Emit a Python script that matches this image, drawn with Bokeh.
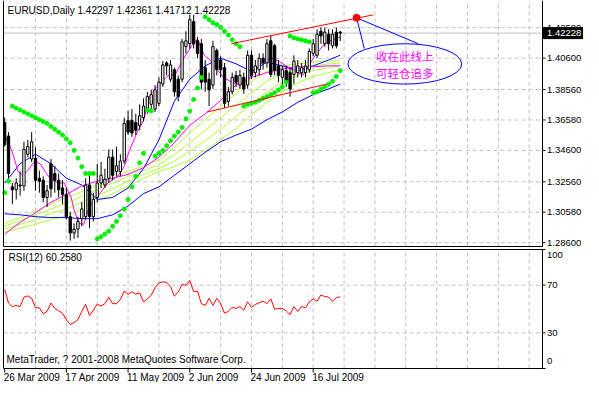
from bokeh.plotting import figure
from bokeh.models import Range1d, ColumnDataSource
from bokeh.layouts import column
from bokeh.embed import file_html
from bokeh.resources import INLINE
from bokeh.core.properties import value

# ---------------- data ----------------
symbol_title = "EURUSD,Daily  1.42297 1.42361 1.41712 1.42228"
rsi_title = "RSI(12) 60.2580"
copyright_text = "MetaTrader, ? 2001-2008 MetaQuotes Software Corp."
date_labels = ["26 Mar 2009", "17 Apr 2009", "11 May 2009", "2 Jun 2009", "24 Jun 2009", "16 Jul 2009"]
date_bars = [0, 16, 32, 48, 64, 80]
grid_bars = [8, 16, 24, 32, 40, 48, 56, 64, 72, 80, 88, 96, 104, 112, 120, 128, 136]
price_ticks = [1.42580, 1.40600, 1.38560, 1.36580, 1.34600, 1.32560, 1.30580, 1.28600]
last_close = 1.42228

opens = [1.3641, 1.3554, 1.3223, 1.3204, 1.3235, 1.3229, 1.3435, 1.3404, 1.3410, 1.3279,
         1.3266, 1.3154, 1.3373, 1.3310, 1.3266, 1.3216, 1.3173, 1.3029, 1.2923, 1.2948,
         1.3016, 1.3029, 1.3235, 1.3029, 1.3154, 1.3248, 1.3235, 1.3279, 1.3416, 1.3323,
         1.3323, 1.3391, 1.3654, 1.3654, 1.3641, 1.3623, 1.3673, 1.3735, 1.3760, 1.3729,
         1.3766, 1.3891, 1.4029, 1.3923, 1.3985, 1.3923, 1.3923, 1.4135, 1.4154, 1.4298,
         1.4173, 1.4154, 1.3998, 1.3923, 1.3885, 1.4110, 1.4048, 1.3998, 1.3779, 1.3841,
         1.3948, 1.3885, 1.3935, 1.3885, 1.4079, 1.3966, 1.3985, 1.4060, 1.4029, 1.4173,
         1.4141, 1.4010, 1.3935, 1.3979, 1.3966, 1.3954, 1.3966, 1.3966, 1.3966, 1.3985,
         1.4091, 1.4079, 1.4235, 1.4154, 1.4216, 1.4141, 1.4229, 1.42297]
closes = [1.3498, 1.3310, 1.3204, 1.3248, 1.3229, 1.3466, 1.3485, 1.3516, 1.3266, 1.3260,
          1.3154, 1.3198, 1.3210, 1.3266, 1.3204, 1.3173, 1.3029, 1.2923, 1.2948, 1.2998,
          1.3079, 1.3235, 1.3029, 1.3141, 1.3248, 1.3298, 1.3273, 1.3416, 1.3298, 1.3360,
          1.3391, 1.3635, 1.3579, 1.3573, 1.3591, 1.3685, 1.3748, 1.3810, 1.3823, 1.3854,
          1.3904, 1.4016, 1.4010, 1.4016, 1.3841, 1.3810, 1.4166, 1.4173, 1.4310, 1.4154,
          1.4091, 1.3904, 1.3904, 1.3854, 1.4135, 1.3985, 1.3985, 1.3766, 1.3841, 1.3935,
          1.3904, 1.3948, 1.3860, 1.4079, 1.3948, 1.4010, 1.4060, 1.4029, 1.4154, 1.3954,
          1.3979, 1.3948, 1.3985, 1.3904, 1.3860, 1.4041, 1.4010, 1.3998, 1.4010, 1.4104,
          1.4154, 1.4216, 1.4204, 1.4229, 1.4154, 1.4216, 1.4141, 1.42228]
highs = [1.3673, 1.3579, 1.3248, 1.3279, 1.3323, 1.3516, 1.3529, 1.3579, 1.3479, 1.3329,
         1.3291, 1.3235, 1.3404, 1.3360, 1.3310, 1.3266, 1.3216, 1.3060, 1.2985, 1.3029,
         1.3123, 1.3279, 1.3310, 1.3185, 1.3373, 1.3385, 1.3341, 1.3466, 1.3466, 1.3485,
         1.3435, 1.3673, 1.3716, 1.3729, 1.3698, 1.3760, 1.3798, 1.3841, 1.3854, 1.3885,
         1.3935, 1.4041, 1.4041, 1.4048, 1.3998, 1.3948, 1.4185, 1.4235, 1.4341, 1.4341,
         1.4198, 1.4185, 1.4048, 1.3966, 1.4173, 1.4123, 1.4073, 1.4029, 1.3873, 1.3966,
         1.3979, 1.3985, 1.3966, 1.4110, 1.4110, 1.4048, 1.4091, 1.4091, 1.4185, 1.4204,
         1.4154, 1.4048, 1.4010, 1.4010, 1.3998, 1.4079, 1.4048, 1.4029, 1.4048, 1.4123,
         1.4185, 1.4248, 1.4260, 1.4260, 1.4248, 1.4248, 1.4260, 1.42361]
lows = [1.3485, 1.3279, 1.3110, 1.3141, 1.3166, 1.3198, 1.3416, 1.3385, 1.3198, 1.3185,
        1.3123, 1.3091, 1.3154, 1.3185, 1.3154, 1.3110, 1.3010, 1.2873, 1.2885, 1.2891,
        1.2966, 1.3010, 1.2954, 1.2998, 1.3123, 1.3216, 1.3216, 1.3248, 1.3266, 1.3291,
        1.3291, 1.3373, 1.3560, 1.3548, 1.3560, 1.3591, 1.3648, 1.3698, 1.3729, 1.3710,
        1.3748, 1.3873, 1.3948, 1.3904, 1.3810, 1.3779, 1.3904, 1.4091, 1.4123, 1.4123,
        1.4060, 1.3860, 1.3841, 1.3748, 1.3860, 1.3948, 1.3935, 1.3735, 1.3748, 1.3823,
        1.3873, 1.3860, 1.3829, 1.3860, 1.3923, 1.3935, 1.3948, 1.3985, 1.3998, 1.3935,
        1.3948, 1.3904, 1.3885, 1.3873, 1.3810, 1.3891, 1.3935, 1.3935, 1.3935, 1.3966,
        1.4073, 1.4060, 1.4154, 1.4135, 1.4110, 1.4123, 1.4123, 1.41712]

# fast magenta average, read at the points where it turns
fast_bars = [0, 1.75, 3.5, 4.75, 6, 7.25, 8, 9.25, 10.5, 11.75, 13, 14.25, 15.5, 16.25, 17.25, 18,
             19.25, 20.5, 21.75, 23, 24.25, 26.75, 29.25, 31, 32.25, 34.25, 36, 37.5, 40, 42.5,
             44.25, 46, 48.5, 50, 51.75, 53.5, 54.75, 56.75, 59.25, 61.25, 63.5, 65, 67.5, 69.75,
             71.75, 73.75, 75.75, 77.5, 80, 82.5, 84.25, 87]
ma_fast = [1.3560, 1.3466, 1.3323, 1.3298, 1.3329, 1.3373, 1.3385, 1.3373, 1.3323, 1.3279, 1.3260,
           1.3248, 1.3248, 1.3204, 1.3154, 1.3073, 1.2985, 1.2979, 1.3079, 1.3135, 1.3166, 1.3248,
           1.3291, 1.3354, 1.3454, 1.3573, 1.3654, 1.3810, 1.3891, 1.3948, 1.3954, 1.4041, 1.4141,
           1.4185, 1.4079, 1.4041, 1.3998, 1.3935, 1.3898, 1.3891, 1.3935, 1.3985, 1.4048, 1.4060,
           1.4029, 1.3998, 1.3966, 1.3954, 1.4060, 1.4141, 1.4173, 1.4198]

# slower lines, read at every 4th bar
line_bars = [0, 4, 8, 12, 16, 20, 24, 28, 32, 36, 40, 44, 48, 52, 56, 60, 64, 68, 72, 76, 80, 84, 87]
ma_slow = [1.2916, 1.2991, 1.3054, 1.3123, 1.3173, 1.3229, 1.3260, 1.3279, 1.3304, 1.3348, 1.3416, 1.3510,
           1.3623, 1.3698, 1.3785, 1.3885, 1.3935, 1.3966, 1.3991, 1.4004, 1.4004, 1.4010, 1.4010]
ma_blue = [1.3248, 1.3373, 1.3435, 1.3373, 1.3279, 1.3235, 1.3141, 1.3154, 1.3216, 1.3341, 1.3529, 1.3779,
           1.3923, 1.4010, 1.4060, 1.4023, 1.3973, 1.4035, 1.4010, 1.3979, 1.4010, 1.4048, 1.4079]
ma_blue_slow = [1.3048, 1.3041, 1.3029, 1.3023, 1.3023, 1.3016, 1.3016, 1.3041, 1.3098, 1.3179, 1.3223, 1.3298,
                1.3373, 1.3448, 1.3516, 1.3560, 1.3598, 1.3660, 1.3710, 1.3773, 1.3823, 1.3860, 1.3891]
yg1 = [1.2985, 1.3023, 1.3066, 1.3110, 1.3154, 1.3191, 1.3235, 1.3279, 1.3323, 1.3360, 1.3398, 1.3479,
       1.3573, 1.3660, 1.3748, 1.3829, 1.3910, 1.3973, 1.4010, 1.4023, 1.4035, 1.4041, 1.4048]
yg2 = [1.2966, 1.3004, 1.3041, 1.3079, 1.3116, 1.3160, 1.3204, 1.3248, 1.3291, 1.3329, 1.3366, 1.3435,
       1.3510, 1.3591, 1.3673, 1.3754, 1.3835, 1.3910, 1.3960, 1.3991, 1.4010, 1.4023, 1.4029]
yg3 = [1.2948, 1.2979, 1.3010, 1.3048, 1.3079, 1.3123, 1.3166, 1.3210, 1.3260, 1.3304, 1.3341, 1.3391,
       1.3454, 1.3523, 1.3598, 1.3679, 1.3760, 1.3841, 1.3904, 1.3948, 1.3979, 1.3998, 1.4010]
yg4 = [1.2929, 1.2954, 1.2979, 1.3010, 1.3035, 1.3079, 1.3129, 1.3179, 1.3229, 1.3279, 1.3323, 1.3354,
       1.3398, 1.3460, 1.3529, 1.3604, 1.3691, 1.3773, 1.3841, 1.3898, 1.3941, 1.3966, 1.3985]

sar = [1.3185, 1.3260, 1.3748, 1.3735, 1.3723, 1.3710, 1.3698, 1.3685, 1.3673, 1.3660,
       1.3648, 1.3635, 1.3616, 1.3598, 1.3579, 1.3560, 1.3535, 1.3510, 1.3460, 1.3410,
       1.3354, 1.3310, 1.3310, 1.3310, 1.2885, 1.2898, 1.2916, 1.2935, 1.2966, 1.2998,
       1.3035, 1.3079, 1.3141, 1.3223, 1.3291, 1.3379, 1.3441, 1.3723, 1.3716, 1.3423,
       1.3441, 1.3460, 1.3491, 1.3523, 1.3554, 1.3579, 1.3610, 1.3666, 1.3716, 1.3791,
       1.3866, 1.3935, 1.4329, 1.4310, 1.4291, 1.4279, 1.4260, 1.4235, 1.4210, 1.4179,
       1.4154, 1.4135, 1.3748, 1.3760, 1.3766, 1.3773, 1.3785, 1.3798, 1.3810, 1.3823,
       1.3835, 1.3854, 1.3873, 1.3904, 1.4204, 1.4191, 1.4185, 1.4179, 1.4173, 1.4166,
       1.3835, 1.3841, 1.3860, 1.3873, 1.3891, 1.3910, 1.3941, 1.3979]

rsi = [66.5, 55, 52, 53, 52, 60, 61, 59, 51, 51, 46, 48, 55, 50.5, 48.5, 46.5, 41, 37, 38.5, 41,
       48, 54, 44.5, 49, 54, 52.5, 54.5, 60, 54.5, 54.5, 58, 65, 62.5, 64.5, 62.5, 63.5, 56, 58.5,
       61.5, 68, 72, 72.7, 72.5, 69, 60.7, 64.4, 70.5, 70, 74, 64.7, 65, 54.5, 53, 59, 53, 59, 54.5,
       46.5, 48, 51.4, 50.5, 52, 49, 56, 51.4, 53.8, 55.3, 56.6, 54.5, 58.5, 49.8, 50.5, 50.5, 48.4,
       45.2, 52, 48, 52, 51, 56, 58.5, 56.5, 61.7, 60.5, 60, 56.5, 59.5, 60.26]
rsi_ticks = [0, 30, 70, 100]
rsi_grid = [30, 70]

# hand-drawn objects (bar index, price)
channel_upper = ([58.75, 95.5], [1.41538, 1.43413])
channel_lower = ([52.5, 83.5], [1.37100, 1.38913])
marker_point = (91.25, 1.43225)
callout_a = ([91.25, 93.25], [1.43225, 1.41225])
callout_b = ([91.25, 107.25], [1.43225, 1.41538])
note_ellipse = (103.75, 1.40225, 29.5, 0.02625)
note_lines = ["收在此线上", "可轻仓追多"]

# ---------------- layout (screen geometry) ----------------
W = 583
H1, H2 = 247, 135
CL, CR = 3, 542            # chart box left/right in px
CT, CB = 0, 246            # main chart box top/bottom in px
RT, RB = 2, 121            # rsi chart box top/bottom in px
X0, X1 = -0.3, 139.45      # bars visible in chart box
Y0, Y1 = 1.2835, 1.4435    # prices visible in chart box
FONT = "Liberation Sans"
FS = "10px"
FS_AX = "9.5px"
GRID = "#c0c0c0"
DASH = "4 3"
SAR_C = "#00f000"
YG_C = "#adff2f"

sx = (CR - CL) / (X1 - X0)           # px per bar
sy = (CB - CT) / (Y1 - Y0)           # px per price unit
sr = (RB - RT) / 100.0               # px per rsi unit
def dx(px): return px / sx
def dy(px): return px / sy
def dr(px): return px / sr

xr1 = Range1d(X0 - dx(CL), X1 + dx(W - CR))
xr2 = Range1d(X0 - dx(CL), X1 + dx(W - CR))

def base_fig(h, yr, xr):
    f = figure(width=W, height=h, x_range=xr, y_range=yr, output_backend="svg",
               toolbar_location=None, min_border=0, x_axis_location=None, y_axis_location=None)
    f.grid.visible = False
    f.outline_line_color = None
    f.background_fill_color = "white"
    f.border_fill_color = "white"
    return f

# ---------------- main price panel ----------------
p = base_fig(H1, Range1d(Y0 - dy(H1 - CB), Y1 + dy(CT)), xr1)

nt = len(price_ticks)
p.segment(x0=[X0] * nt, y0=price_ticks, x1=[X1] * nt, y1=price_ticks,
          line_color=GRID, line_dash=DASH, line_width=1)
ng = len(grid_bars)
p.segment(x0=grid_bars, y0=[Y0] * ng, x1=grid_bars, y1=[Y1] * ng,
          line_color=GRID, line_dash=DASH, line_width=1)
p.segment(x0=[X0], y0=[last_close], x1=[X1], y1=[last_close], line_color="#c0c0c0", line_width=1)

for ys, col in ((yg4, YG_C), (yg3, YG_C), (yg2, YG_C), (yg1, YG_C),
                (ma_blue_slow, "#0000ff"), (ma_blue, "#0000ff"), (ma_slow, "#ff00ff")):
    p.line(line_bars, ys, line_color=col, line_width=1)
p.line(fast_bars, ma_fast, line_color="#ff00ff", line_width=1)

idx = list(range(len(opens)))
src = ColumnDataSource(dict(
    x=idx, h=highs, l=lows,
    top=[max(a, b) for a, b in zip(opens, closes)],
    bot=[min(a, b) for a, b in zip(opens, closes)],
    fill=["white" if c >= o else "black" for o, c in zip(opens, closes)],
))
p.segment(x0="x", y0="h", x1="x", y1="l", source=src, line_color="black", line_width=1)
p.vbar(x="x", width=0.6, top="top", bottom="bot", source=src,
       fill_color="fill", line_color="black", line_width=1)

p.scatter(idx, sar, size=4, marker="circle", fill_color=SAR_C, line_color=SAR_C)

p.line(channel_upper[0], channel_upper[1], line_color="red", line_width=1)
p.line(channel_lower[0], channel_lower[1], line_color="red", line_width=1)
p.line(callout_a[0], callout_a[1], line_color="#0000ff", line_width=1)
p.line(callout_b[0], callout_b[1], line_color="#0000ff", line_width=1)
p.ellipse(x=[note_ellipse[0]], y=[note_ellipse[1]], width=[note_ellipse[2]], height=[note_ellipse[3]],
          fill_color=None, line_color="#0000ff", line_width=1)
p.scatter([marker_point[0]], [marker_point[1]], size=7, fill_color="red", line_color="red")
p.text(x=[note_ellipse[0], note_ellipse[0]],
       y=[note_ellipse[1] + dy(8), note_ellipse[1] - dy(9)], text=note_lines,
       text_font=value("Noto Sans CJK SC"), text_font_size=value("11.5px"), text_color="#ff00ff",
       text_align="center", text_baseline="middle")

# frame of the chart box (left, bottom, right)
p.line([X0, X0, X1, X1], [Y1, Y0, Y0, Y1], line_color="black", line_width=1)
# right price scale
p.segment(x0=[X1] * nt, y0=price_ticks, x1=[X1 + dx(3)] * nt, y1=price_ticks, line_color="black")
p.text(x=[X1 + dx(4.5)] * nt, y=price_ticks, text=["%.5f" % t for t in price_ticks],
       text_font=value(FONT), text_font_size=value(FS_AX), text_color="black",
       text_align="left", text_baseline="middle")
p.quad(left=[X1 + dx(1)], right=[X1 + dx(W - CR)], bottom=[last_close - dy(5.5)],
       top=[last_close + dy(5.5)], fill_color="black", line_color="black")
p.text(x=[X1 + dx(4.5)], y=[last_close], text=["%.5f" % last_close],
       text_font=value(FONT), text_font_size=value(FS_AX), text_color="white",
       text_align="left", text_baseline="middle")
p.text(x=[X0 + dx(4)], y=[Y1 - dy(10)], text=[symbol_title],
       text_font=value(FONT), text_font_size=value(FS), text_color="black",
       text_align="left", text_baseline="middle")

# ---------------- RSI panel ----------------
r = base_fig(H2, Range1d(0 - dr(H2 - RB), 100 + dr(RT)), xr2)
nr = len(rsi_grid)
r.segment(x0=[X0] * nr, y0=rsi_grid, x1=[X1] * nr, y1=rsi_grid,
          line_color=GRID, line_dash=DASH, line_width=1)
r.segment(x0=grid_bars, y0=[0] * ng, x1=grid_bars, y1=[100] * ng,
          line_color=GRID, line_dash=DASH, line_width=1)
r.line(idx, rsi, line_color="red", line_width=1)
r.line([X0, X0, X1, X1, X0], [100, 0, 0, 100, 100], line_color="black", line_width=1)

nrt = len(rsi_ticks)
r.segment(x0=[X1] * nrt, y0=rsi_ticks, x1=[X1 + dx(3)] * nrt, y1=rsi_ticks, line_color="black")
rsi_label_y = [6, 30, 70, 95]   # 0 and 100 kept inside the panel, as MetaTrader does
r.text(x=[X1 + dx(4.5)] * nrt, y=rsi_label_y, text=[str(t) for t in rsi_ticks],
       text_font=value(FONT), text_font_size=value(FS_AX), text_color="black",
       text_align="left", text_baseline="middle")

nd = len(date_bars)
r.segment(x0=date_bars, y0=[0] * nd, x1=date_bars, y1=[-dr(4)] * nd, line_color="black")
r.text(x=[b - dx(1) for b in date_bars], y=[-dr(9)] * nd, text=date_labels,
       text_font=value(FONT), text_font_size=value(FS), text_color="black",
       text_align="left", text_baseline="middle")

r.text(x=[X0 + dx(5)], y=[100 - dr(8)], text=[rsi_title],
       text_font=value(FONT), text_font_size=value(FS), text_color="black",
       text_align="left", text_baseline="middle")
r.text(x=[X0 + dx(3)], y=[dr(9)], text=[copyright_text],
       text_font=value(FONT), text_font_size=value(FS), text_color="black",
       text_align="left", text_baseline="middle")

layout = column(p, r, spacing=0)
open("out.html", "w").write(file_html(layout, INLINE))
